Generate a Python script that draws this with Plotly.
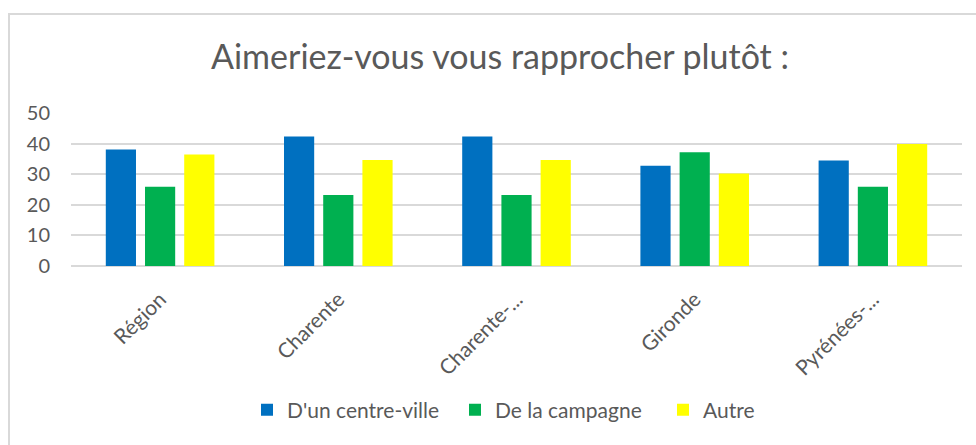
import plotly.graph_objects as go

categories = ["Région", "Charente", "Charente-...", "Gironde", "Pyrénées-..."]
centre_ville = [38.1, 42.3, 42.3, 32.8, 34.5]
campagne = [25.9, 23.2, 23.2, 37.2, 25.9]
autre = [36.4, 34.6, 34.6, 30.2, 39.9]
series_names = ["D'un centre-ville", "De la campagne", "Autre"]
y_ticks = [0, 10, 20, 30, 40, 50]

colors = ["#0070C0", "#00B050", "#FFFF00"]
W, H = 976, 445
L, R, T, B = 71, 14, 113, 179
plot_w = W - L - R
plot_h = H - T - B

fig = go.Figure()
for name, vals, c in zip(series_names, [centre_ville, campagne, autre], colors):
    fig.add_trace(go.Bar(x=categories, y=vals, name=name,
                         marker=dict(color=c, line=dict(width=0))))

def px_x(p):
    return (p - L) / plot_w

def px_y(p):
    return (H - B - p) / plot_h

fig.update_layout(
    width=W, height=H,
    margin=dict(l=L, r=R, t=T, b=B, autoexpand=False),
    paper_bgcolor="white", plot_bgcolor="white",
    barmode="group", bargap=0.34, bargroupgap=0.23,
    font=dict(family="Lato, Open Sans, sans-serif", color="#595959"),
    title=dict(text="Aimeriez-vous vous rapprocher plutôt :",
               x=px_x(500), xanchor="center", xref="paper",
               y=1 - 57 / H, yanchor="middle", yref="container",
               font=dict(size=34, color="#595959")),
    xaxis=dict(showgrid=False, showline=False, ticks="", tickangle=-45,
               ticklabelstandoff=16, automargin=False,
               tickfont=dict(size=21, color="#595959")),
    yaxis=dict(range=[0, 50], tickvals=y_ticks, showgrid=True,
               gridcolor="#D9D9D9", gridwidth=1.5, zeroline=True,
               zerolinecolor="#D9D9D9", zerolinewidth=1.5, ticks="",
               ticklabelstandoff=20, automargin=False,
               tickfont=dict(size=20, color="#595959")),
    legend=dict(orientation="h", x=px_x(559), xanchor="center",
                y=px_y(410), yanchor="middle",
                font=dict(size=21, color="#595959"),
                itemwidth=30, traceorder="normal",
                entrywidth=163, entrywidthmode="pixels"),
    shapes=[dict(type="rect", xref="paper", yref="paper",
                 x0=px_x(9), x1=px_x(990), y0=px_y(460), y1=px_y(14),
                 line=dict(color="#D9D9D9", width=2), layer="below")],
)

fig.write_html("out.html", config={"displayModeBar": False},
               post_script="document.body.style.margin='0';")
